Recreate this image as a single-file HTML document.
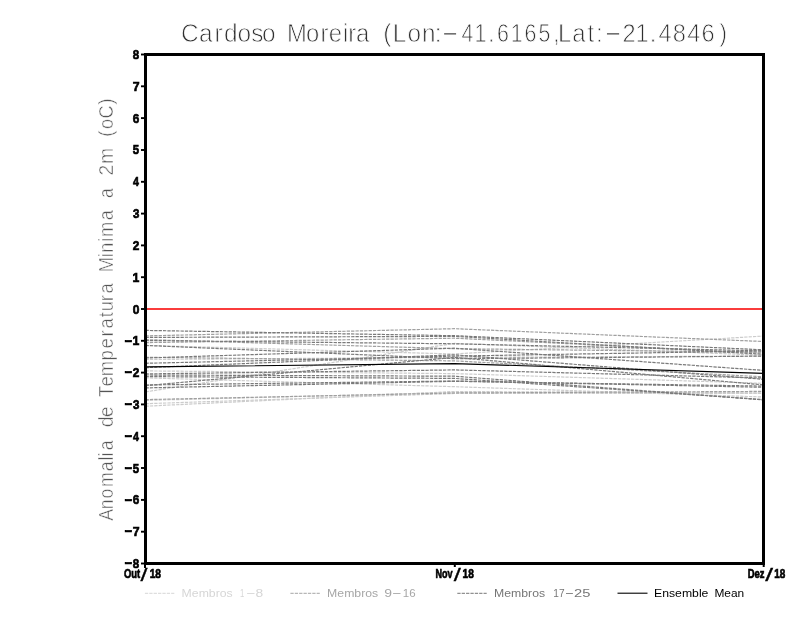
<!DOCTYPE html>
<html lang="pt"><head><meta charset="utf-8"><title>Cardoso Moreira</title>
<style>html,body{margin:0;padding:0;background:#fff}svg{display:block}text{font-family:"Liberation Sans",sans-serif}</style>
</head><body>
<svg width="800" height="618" viewBox="0 0 800 618" style="will-change:transform">
<rect x="0" y="0" width="800" height="618" fill="#fff"/>
<g fill="#303030" stroke="#fff" stroke-width="0.80" paint-order="fill stroke">
<text transform="translate(0,41.90) scale(0.9551,1)" x="189.60 208.27 224.70 234.56 248.77 263.02 274.29" font-size="25.6">Cardoso</text>
<text transform="translate(0,41.90) scale(0.9312,1)" x="308.20 328.50 344.16 352.93 368.23 373.97 382.29" font-size="25.6">Moreira</text>
<text transform="translate(0,41.90) scale(0.9508,1)" x="403.15 412.96 428.72 443.84 457.28" font-size="25.6">(Lon:</text>
<text transform="translate(440.82,40.80) scale(2.2003,1.0000)" font-size="25.6">-</text>
<text transform="translate(0,41.90) scale(0.8374,1)" x="551.21 566.79 582.94 593.62 609.78 626.46 642.94" font-size="25.6">41.6165</text>
<text transform="translate(0,41.90) scale(0.9383,1)" x="589.49 594.65 609.77 626.06 635.25" font-size="25.6">,Lat:</text>
<text transform="translate(603.52,40.80) scale(2.2401,1.0000)" font-size="25.6">-</text>
<text transform="translate(0,41.90) scale(0.9242,1)" x="673.61 687.63 703.16 712.49 727.92 743.60 759.03" font-size="25.6">21.4846</text>
<text transform="translate(719.38,41.75) scale(0.8714,1.0000)" font-size="25.6">)</text>
</g>
<g transform="translate(112.7,520) rotate(-90)" fill="#555" stroke="#fff" stroke-width="0.50" paint-order="fill stroke">
<text transform="translate(0,0.00) scale(0.8844,1)" x="-0.99 12.03 24.41 37.21 55.06 67.34 71.86 78.86" font-size="20">Anomalia</text>
<text transform="translate(0,0.00) scale(0.9836,1)" x="94.38 104.40" font-size="20">de</text>
<text transform="translate(0,0.00) scale(0.9195,1)" x="133.87 145.29 156.41 173.37 186.51 199.62 208.35 220.64 227.08 237.96 246.31" font-size="20">Temperatura</text>
<text transform="translate(0,0.00) scale(0.9135,1)" x="271.34 287.68 292.70 304.65 309.88 328.16" font-size="20">Minima</text>
<text transform="translate(321.96,0.00) scale(0.8824,1.0000)" font-size="20">a</text>
<text transform="translate(0,0.00) scale(0.9697,1)" x="355.34 367.23" font-size="20">2m</text>
<text transform="translate(0,0.00) scale(0.9080,1)" x="422.21 430.75 442.27 457.56" font-size="20">(oC)</text>
</g>
<g fill="none" stroke-width="1.2" stroke-dasharray="3.3 1.075">
<g stroke="#cccccc">
<polyline points="145.5,391.9 454.5,343.4 763.5,355.2"/>
<polyline points="145.5,345.4 454.5,354.0 763.5,336.1"/>
<polyline points="145.5,370.9 454.5,373.6 763.5,383.3"/>
<polyline points="145.5,377.9 454.5,386.7 763.5,397.0"/>
<polyline points="145.5,400.4 454.5,392.5 763.5,393.0"/>
<polyline points="145.5,403.7 454.5,393.5 763.5,393.5"/>
<polyline points="145.5,406.2 454.5,391.5 763.5,393.0"/>
<polyline points="145.5,359.5 454.5,357.4 763.5,356.1"/>
</g>
<g stroke="#a0a0a0">
<polyline points="145.5,335.9 454.5,328.7 763.5,341.5"/>
<polyline points="145.5,342.6 454.5,338.2 763.5,353.1"/>
<polyline points="145.5,339.6 454.5,348.7 763.5,352.2"/>
<polyline points="145.5,357.3 454.5,360.9 763.5,376.8"/>
<polyline points="145.5,399.6 454.5,393.0 763.5,391.4"/>
</g>
<g stroke="#7a7a7a">
<polyline points="145.5,330.4 454.5,335.7 763.5,349.8"/>
<polyline points="145.5,337.4 454.5,336.4 763.5,354.3"/>
<polyline points="145.5,340.5 454.5,343.8 763.5,350.9"/>
<polyline points="145.5,345.4 454.5,358.7 763.5,356.1"/>
<polyline points="145.5,358.0 454.5,348.2 763.5,370.4"/>
<polyline points="145.5,363.3 454.5,356.1 763.5,350.9"/>
<polyline points="145.5,367.7 454.5,354.8 763.5,379.3"/>
<polyline points="145.5,385.7 454.5,357.4 763.5,384.9"/>
<polyline points="145.5,373.9 454.5,369.9 763.5,378.0"/>
<polyline points="145.5,375.0 454.5,376.2 763.5,400.0"/>
<polyline points="145.5,376.6 454.5,378.4 763.5,399.5"/>
<polyline points="145.5,387.9 454.5,381.3 763.5,386.1"/>
<polyline points="145.5,385.0 454.5,381.0 763.5,387.3"/>
</g>
</g>
<polyline fill="none" stroke="#000" stroke-width="1.15" points="145.5,366.9 454.5,363.6 763.5,373.4"/>
<line x1="146" y1="309" x2="763" y2="309" stroke="#fa3c3c" stroke-width="2.2"/>
<rect x="145.5" y="54.5" width="618" height="509" fill="none" stroke="#000" stroke-width="3"/>
<g stroke="#000" stroke-width="1.9">
<line x1="141" y1="563.5" x2="145" y2="563.5"/>
<line x1="141" y1="531.7" x2="145" y2="531.7"/>
<line x1="141" y1="499.9" x2="145" y2="499.9"/>
<line x1="141" y1="468.0" x2="145" y2="468.0"/>
<line x1="141" y1="436.2" x2="145" y2="436.2"/>
<line x1="141" y1="404.4" x2="145" y2="404.4"/>
<line x1="141" y1="372.6" x2="145" y2="372.6"/>
<line x1="141" y1="340.8" x2="145" y2="340.8"/>
<line x1="141" y1="309.0" x2="145" y2="309.0"/>
<line x1="141" y1="277.2" x2="145" y2="277.2"/>
<line x1="141" y1="245.4" x2="145" y2="245.4"/>
<line x1="141" y1="213.6" x2="145" y2="213.6"/>
<line x1="141" y1="181.8" x2="145" y2="181.8"/>
<line x1="141" y1="150.0" x2="145" y2="150.0"/>
<line x1="141" y1="118.1" x2="145" y2="118.1"/>
<line x1="141" y1="86.3" x2="145" y2="86.3"/>
<line x1="141" y1="54.5" x2="145" y2="54.5"/>
<line x1="145" y1="564" x2="145" y2="568" stroke-width="2"/>
<line x1="454.8" y1="564" x2="454.8" y2="567" stroke-width="2"/>
<line x1="763.7" y1="564" x2="763.7" y2="567" stroke-width="2"/>
</g>
<g font-weight="bold" fill="#000" stroke="#000" stroke-width="0.7">
<g><text transform="translate(124.47,567.28) scale(1.7139,1.0000)" font-size="13.5">-</text><text transform="translate(132.85,567.98) scale(0.8530,0.9418)" font-size="13.5">8</text></g>
<g><text transform="translate(124.47,535.47) scale(1.7139,1.0000)" font-size="13.5">-</text><text transform="translate(132.65,536.17) scale(0.9080,0.9554)" font-size="13.5">7</text></g>
<g><text transform="translate(124.47,503.66) scale(1.7139,1.0000)" font-size="13.5">-</text><text transform="translate(132.79,504.36) scale(0.8706,0.9418)" font-size="13.5">6</text></g>
<g><text transform="translate(124.47,471.85) scale(1.7139,1.0000)" font-size="13.5">-</text><text transform="translate(132.86,472.55) scale(0.8444,0.9554)" font-size="13.5">5</text></g>
<g><text transform="translate(124.47,440.04) scale(1.7139,1.0000)" font-size="13.5">-</text><text transform="translate(133.04,440.74) scale(0.7892,0.9554)" font-size="13.5">4</text></g>
<g><text transform="translate(124.47,408.23) scale(1.7139,1.0000)" font-size="13.5">-</text><text transform="translate(132.91,408.93) scale(0.8530,0.9418)" font-size="13.5">3</text></g>
<g><text transform="translate(124.47,376.42) scale(1.7139,1.0000)" font-size="13.5">-</text><text transform="translate(132.78,377.12) scale(0.8796,0.9418)" font-size="13.5">2</text></g>
<g><text transform="translate(124.47,344.61) scale(1.7139,1.0000)" font-size="13.5">-</text><text transform="translate(132.40,345.31) scale(0.9080,0.9554)" font-size="13.5">1</text></g>
<text transform="translate(132.72,313.50) scale(0.8889,0.9418)" font-size="13.5">0</text>
<text transform="translate(132.40,281.69) scale(0.9080,0.9554)" font-size="13.5">1</text>
<text transform="translate(132.78,249.88) scale(0.8796,0.9418)" font-size="13.5">2</text>
<text transform="translate(132.91,218.07) scale(0.8530,0.9418)" font-size="13.5">3</text>
<text transform="translate(133.04,186.26) scale(0.7892,0.9554)" font-size="13.5">4</text>
<text transform="translate(132.86,154.45) scale(0.8444,0.9554)" font-size="13.5">5</text>
<text transform="translate(132.79,122.64) scale(0.8706,0.9418)" font-size="13.5">6</text>
<text transform="translate(132.65,90.83) scale(0.9080,0.9554)" font-size="13.5">7</text>
<text transform="translate(132.85,59.02) scale(0.8530,0.9418)" font-size="13.5">8</text>
</g>
<g font-weight="bold" fill="#000" stroke="#000" stroke-width="0.7">
<g><text transform="translate(123.92,577.80) scale(0.6964,0.9735)" font-size="13.5">Out</text><text transform="translate(140.60,580.80) scale(1.3206,1.0000)" font-size="19" font-weight="normal" stroke-width="0.3">/</text><text transform="translate(149.63,577.80) scale(0.7590,0.9735)" font-size="13.5">18</text></g>
<g><text transform="translate(435.41,577.80) scale(0.6716,0.9877)" font-size="13.5">Nov</text><text transform="translate(453.70,580.80) scale(1.3397,1.0000)" font-size="19" font-weight="normal" stroke-width="0.3">/</text><text transform="translate(462.54,577.80) scale(0.7517,0.9735)" font-size="13.5">18</text></g>
<g><text transform="translate(747.68,577.80) scale(0.7011,0.9877)" font-size="13.5">Dez</text><text transform="translate(765.20,580.80) scale(1.4737,1.0000)" font-size="19" font-weight="normal" stroke-width="0.3">/</text><text transform="translate(774.25,577.80) scale(0.7371,0.9735)" font-size="13.5">18</text></g>
</g>
<line x1="144.9" y1="593.3" x2="174.3" y2="593.3" stroke="#d6d6d6" stroke-width="1" stroke-dasharray="3.3 1.075"/>
<g fill="#d6d6d6">
<text transform="translate(181.62,596.80) scale(1.1673,1.0000)" font-size="10.5">Membros</text>
<text transform="translate(240.12,596.80) scale(0.7309,1.0000)" font-size="10.5">1</text>
<text transform="translate(245.84,596.20) scale(2.8766,1.0000)" font-size="10.5">-</text>
<text transform="translate(255.58,596.80) scale(1.3171,1.0000)" font-size="10.5">8</text>
</g>
<line x1="290.4" y1="593.3" x2="319.8" y2="593.3" stroke="#a6a6a6" stroke-width="1" stroke-dasharray="3.3 1.075"/>
<g fill="#a6a6a6">
<text transform="translate(327.12,596.80) scale(1.1673,1.0000)" font-size="10.5">Membros</text>
<text transform="translate(384.27,596.80) scale(1.3313,1.0000)" font-size="10.5">9</text>
<text transform="translate(391.64,596.20) scale(2.8766,1.0000)" font-size="10.5">-</text>
<text transform="translate(402.74,596.80) scale(1.0967,1.0000)" font-size="10.5">16</text>
</g>
<line x1="457.3" y1="593.3" x2="486.7" y2="593.3" stroke="#767676" stroke-width="1" stroke-dasharray="3.3 1.075"/>
<g fill="#767676">
<text transform="translate(494.02,596.80) scale(1.1673,1.0000)" font-size="10.5">Membros</text>
<text transform="translate(553.24,596.80) scale(0.9669,1.0000)" font-size="10.5">17</text>
<text transform="translate(564.63,596.20) scale(2.6822,1.0000)" font-size="10.5">-</text>
<text transform="translate(573.96,596.80) scale(1.4006,1.0000)" font-size="10.5">25</text>
</g>
<line x1="617.5" y1="593.2" x2="647.5" y2="593.2" stroke="#000" stroke-width="1.1"/>
<g fill="#000"><text transform="translate(654.02,596.80) scale(1.1662,1.0000)" font-size="10.5">Ensemble</text><text transform="translate(714.45,596.80) scale(1.1364,1.0000)" font-size="10.5">Mean</text></g>
</svg>
</body></html>
